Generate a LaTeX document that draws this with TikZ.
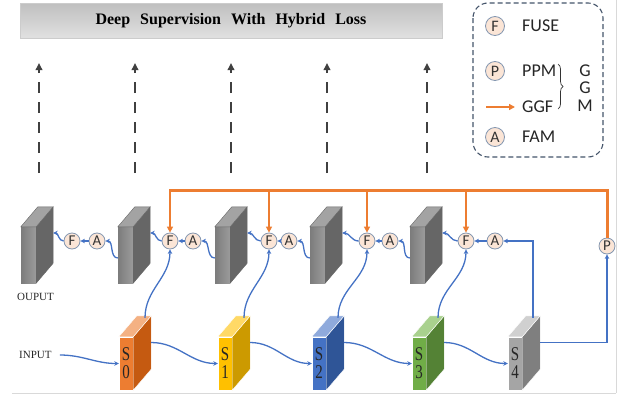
\documentclass[tikz,border=0pt]{standalone}
\usepackage{fontspec}
\usepackage{graphicx}
\setmainfont{Liberation Serif}
\newfontfamily\legfont{Carlito}
\usetikzlibrary{arrows.meta,decorations.pathreplacing,calc}
\definecolor{cblue}{HTML}{4472C4}
\definecolor{corange}{HTML}{ED7D31}
\definecolor{cpeach}{HTML}{FBE5D6}
\definecolor{cring}{HTML}{8497B0}
\definecolor{cleg}{HTML}{44546A}
\definecolor{darr}{HTML}{404040}
\definecolor{dfront}{HTML}{8A8A8A}
\definecolor{dside}{HTML}{666666}
\definecolor{dtop}{HTML}{A3A3A3}
\definecolor{sOf}{HTML}{ED7D31}\definecolor{sOs}{HTML}{C55A11}\definecolor{sOt}{HTML}{F4B183}
\definecolor{sYf}{HTML}{FFC000}\definecolor{sYs}{HTML}{CC9A00}\definecolor{sYt}{HTML}{FFD966}
\definecolor{sBf}{HTML}{4472C4}\definecolor{sBs}{HTML}{2F5597}\definecolor{sBt}{HTML}{8FAADC}
\definecolor{sGf}{HTML}{70AD47}\definecolor{sGs}{HTML}{548235}\definecolor{sGt}{HTML}{A9D18E}
\definecolor{sAf}{HTML}{A5A5A5}\definecolor{sAs}{HTML}{7F7F7F}\definecolor{sAt}{HTML}{D0D0D0}
\newcommand\st[1]{\scalebox{1}[1.3]{#1}}
\newcommand\widesp{\spaceskip=10pt\relax}
% faces of a 3D block: node, side colour, top colour, dx, dy, edge colour
\newcommand\blockfaces[6]{%
  \filldraw[fill=#2, draw=#6, line width=0.4pt] (#1.north east) -- ++(#4,#5) -- ($(#1.south east)+(#4,#5)$) -- (#1.south east) -- cycle;
  \filldraw[fill=#3, draw=#6, line width=0.4pt] (#1.north west) -- (#1.north east) -- ++(#4,#5) -- ($(#1.north west)+(#4,#5)$) -- cycle;}
\begin{document}
\begin{tikzpicture}[x=1pt,y=-1pt,
  circ/.style={circle, draw=cring, fill=cpeach, line width=0.8pt, minimum size=16pt, inner sep=0pt,
    font=\legfont\fontsize{15}{15}\selectfont, text=black!80},
  lcirc/.style={circ, minimum size=19pt, font=\legfont\fontsize{16}{16}\selectfont},
  ltxt/.style={anchor=west, inner sep=0pt, font=\legfont\fontsize{18}{18}\selectfont, text=black!85},
  bl/.style={draw=cblue, line width=1.3pt, -{Stealth[length=4.5pt,width=4.5pt]}},
  obus/.style={draw=corange, line width=3pt},
  odrop/.style={draw=corange, line width=2pt, -{Triangle[length=6pt,width=6pt]}},
  dsh/.style={draw=darr, line width=2pt, dash pattern=on 11pt off 9pt, -{Triangle[length=7pt,width=6.5pt]}},
  dec/.style={rectangle, minimum width=15pt, minimum height=56pt, inner sep=0pt, left color=dfront!90!black, right color=dfront!85!white},
  enc/.style={rectangle, minimum width=14pt, minimum height=53pt, inner sep=0pt, draw=white, line width=0.4pt,
    font=\fontsize{15}{18}\selectfont, align=center, text=black!85},
  lbl/.style={inner sep=0pt, font=\fontsize{11}{11}\selectfont, text=black!85}
]
\useasboundingbox (0,0) rectangle (621,399);
% frame lines
\draw[black!15, line width=0.8pt] (12,393) -- (616,393);
\draw[black!15, line width=0.8pt] (616,0) -- (616,393);
% title
\node[rectangle, minimum width=422pt, minimum height=35pt, top color=black!25, bottom color=black!12,
  draw=black!20, line width=0.4pt, font=\bfseries\fontsize{16}{16}\selectfont\widesp] (title) at (231,20.5)
  {Deep Supervision With Hybrid Loss};
% dashed supervision arrows
\foreach \i/\x in {0/39,1/135,2/231,3/327,4/427}{
  \coordinate (dsb\i) at (\x,173);
  \coordinate (dst\i) at (\x,63);
  \draw[dsh] (dsb\i) -- (dst\i);
}
% legend
\draw[cleg, line width=1.1pt, rounded corners=15pt, dash pattern=on 5pt off 3pt] (473,3) rectangle (603,157);
\node[lcirc] (lf) at (495,26) {F};
\node[ltxt] (lfuse) at (522,26) {FUSE};
\node[lcirc] (lp) at (495,71) {P};
\node[ltxt] (lppm) at (522,71) {PPM};
\coordinate (lga) at (486,107);
\coordinate (lgb) at (515,107);
\draw[draw=corange, line width=2pt, -{Triangle[length=6pt,width=6pt]}] (lga) -- (lgb);
\node[ltxt] (lggf) at (522,107) {GGF};
\node[lcirc] (la) at (495,137) {A};
\node[ltxt] (lfam) at (522,137) {FAM};
\draw[decorate, decoration={brace, amplitude=5pt}, line width=0.7pt, black!80] (558,64) -- (558,109);
\node[ltxt, anchor=center] (g1) at (585,71) {G};
\node[ltxt, anchor=center] (g2) at (585,88) {G};
\node[ltxt, anchor=center] (g3) at (585,106) {M};
% decoder blocks
\foreach \i/\x in {0/28.5,1/125.5,2/222.5,3/317.5,4/417.5}{
  \node[dec] (d\i) at (\x,255) {};
  \blockfaces{d\i}{dside}{dtop}{17}{-20}{dside}
}
% encoder blocks
\node[enc, fill=sOf] (s0) at (126,363.5) {\st{S}\\\st{0}};
\blockfaces{s0}{sOs}{sOt}{18}{-21}{white}
\node[enc, fill=sYf] (s1) at (225,363.5) {\st{S}\\\st{1}};
\blockfaces{s1}{sYs}{sYt}{18}{-21}{white}
\node[enc, fill=sBf] (s2) at (319,363.5) {\st{S}\\\st{2}};
\blockfaces{s2}{sBs}{sBt}{18}{-21}{white}
\node[enc, fill=sGf] (s3) at (419,363.5) {\st{S}\\\st{3}};
\blockfaces{s3}{sGs}{sGt}{18}{-21}{white}
\node[enc, fill=sAf] (s4) at (515,363.5) {\st{S}\\\st{4}};
\blockfaces{s4}{sAs}{sAt}{18}{-21}{white}
% labels
\node[lbl, anchor=west] (inp) at (19,355) {INPUT};
\node[lbl, anchor=west] (outp) at (17,297) {OUPUT};
% F, A, P circles
\foreach \i/\x in {0/72,1/170,2/269,3/367,4/466} \node[circ] (f\i) at (\x,241) {F};
\foreach \i/\x in {0/97,1/193,2/289,3/390,4/495} \node[circ] (a\i) at (\x,241) {A};
\node[circ] (p) at (607,246) {P};
% orange GGF bus
\coordinate (busy) at (0,190);
\draw[obus] (p.north) |- ([xshift=-1pt]f1.north |- busy);
\foreach \i in {1,...,4} \draw[odrop] (f\i.north |- busy) -- (f\i.north);
% blue connectors
\foreach \i in {0,...,4}{
  \draw[bl] (a\i) -- (f\i);
  \draw[bl] (f\i.west) to[out=180,in=0] ($(d\i.east)+(17,-22)$);
}
\foreach \i in {0,...,3}{
  \pgfmathtruncatemacro\j{\i+1}
  \draw[bl] ([yshift=-3pt]d\j.west) to[out=180,in=0] (a\i.east);
  \draw[bl] ($(s\i.north)+(19,-19)$) to[out=90,in=-90] (f\j.south);
  \draw[bl] ($(s\i.east)+(18,-21)$) to[out=0,in=180] (s\j.west);
}
\draw[bl] ([xshift=8pt]inp.east) to[out=0,in=180] (s0.west);
\draw[bl] ($(s4.north)+(18,-19)$) |- (a4.east);
\draw[bl] ($(s4.east)+(18,-21)$) -| (p.south);
\end{tikzpicture}
\end{document}
